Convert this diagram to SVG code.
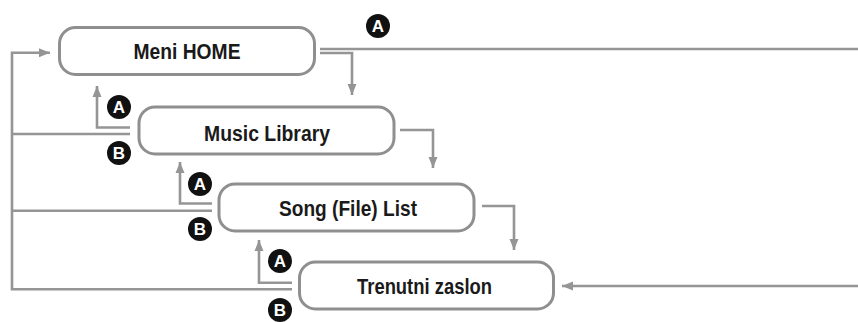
<svg xmlns="http://www.w3.org/2000/svg" width="858" height="322" viewBox="0 0 858 322">
<style>
.box{fill:#fff;stroke:#8f8f8f;stroke-width:3}
.lbl{font-family:"Liberation Sans",Arial,sans-serif;font-weight:bold;font-size:22px;fill:#1a1a1a;text-anchor:middle}
.ln{fill:none;stroke:#959595;stroke-width:2.6}
.tag circle{fill:#111}
.tag text{font-family:"Liberation Sans",Arial,sans-serif;font-weight:bold;font-size:17px;fill:#fff;text-anchor:middle}
</style>
<defs>
<marker id="ah" markerUnits="userSpaceOnUse" markerWidth="12" markerHeight="12" viewBox="0 0 12 12" refX="11" refY="6" orient="auto">
<path d="M0,1.5 L11,6 L0,10.5 Z" fill="#959595"/>
</marker>
</defs>
<g id="connectors">
<path class="ln" d="M292 289.3 H12 V52.7 H50" marker-end="url(#ah)"/>
<path class="ln" d="M130 134 H12"/>
<path class="ln" d="M212 210.7 H12"/>
<path class="ln" d="M130 127.5 H97 V86" marker-end="url(#ah)"/>
<path class="ln" d="M212 203.5 H180 V162" marker-end="url(#ah)"/>
<path class="ln" d="M292 282.8 H259 V240" marker-end="url(#ah)"/>
<path class="ln" d="M320 49 H858"/>
<path class="ln" d="M320 53 H352 V95" marker-end="url(#ah)"/>
<path class="ln" d="M400 130 H433 V168" marker-end="url(#ah)"/>
<path class="ln" d="M482 206 H514 V250" marker-end="url(#ah)"/>
<path class="ln" d="M858 286 H562" marker-end="url(#ah)"/>
</g>
<g id="node-home">
<rect class="box" x="59.5" y="27.5" width="255" height="47" rx="16"/>
<text class="lbl" x="187" y="58.5" textLength="107" lengthAdjust="spacingAndGlyphs">Meni HOME</text>
</g>
<g id="node-library">
<rect class="box" x="139" y="107" width="255" height="47" rx="16"/>
<text class="lbl" x="267" y="140.5" textLength="126" lengthAdjust="spacingAndGlyphs">Music Library</text>
</g>
<g id="node-songlist">
<rect class="box" x="219" y="184" width="255" height="47" rx="16"/>
<text class="lbl" x="348" y="215.5" textLength="138" lengthAdjust="spacingAndGlyphs">Song (File) List</text>
</g>
<g id="node-current">
<rect class="box" x="299.5" y="262" width="254" height="47" rx="16"/>
<text class="lbl" x="424.5" y="293.5" textLength="135" lengthAdjust="spacingAndGlyphs">Trenutni zaslon</text>
</g>
<g id="tags">
<g class="tag"><circle cx="378" cy="26" r="12"/><text x="378" y="32">A</text></g>
<g class="tag"><circle cx="119" cy="107" r="12"/><text x="119" y="113">A</text></g>
<g class="tag"><circle cx="119" cy="153" r="12"/><text x="119" y="159">B</text></g>
<g class="tag"><circle cx="200" cy="184" r="12"/><text x="200" y="190">A</text></g>
<g class="tag"><circle cx="200" cy="229" r="12"/><text x="200" y="235">B</text></g>
<g class="tag"><circle cx="280" cy="261" r="12"/><text x="280" y="267">A</text></g>
<g class="tag"><circle cx="280" cy="310" r="12"/><text x="280" y="316">B</text></g>
</g>
</svg>
